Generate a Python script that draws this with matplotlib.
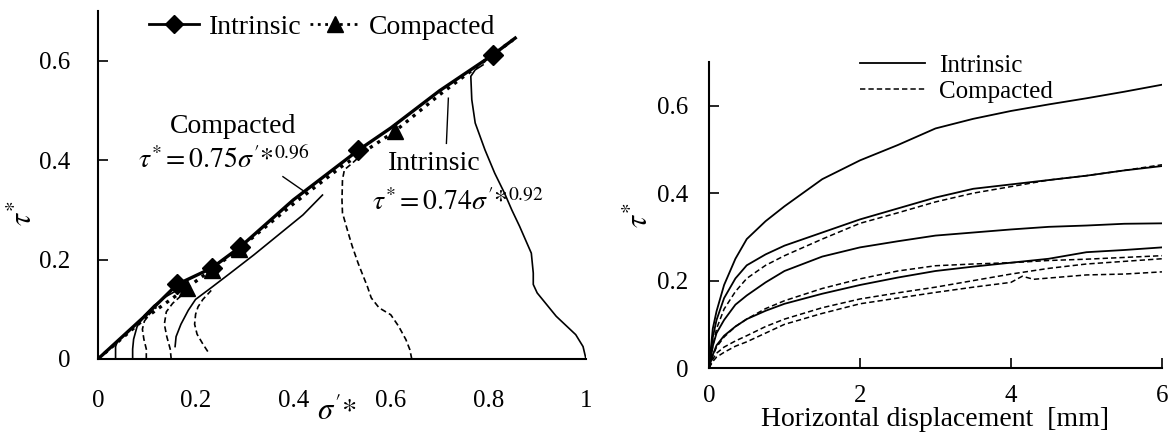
import matplotlib
matplotlib.use("Agg")
import matplotlib.pyplot as plt
from matplotlib.lines import Line2D

plt.rcParams['font.family'] = ['Liberation Serif', 'DejaVu Serif']
plt.rcParams['mathtext.fontset'] = 'stix'

# ---------------- Left chart data (sigma'*, tau*) ----------------
# failure envelopes (fit lines)
env_int_sig = [0.0, 0.1, 0.162, 0.233, 0.292, 0.4, 0.533, 0.6, 0.7, 0.809, 0.855]
env_int_tau = [0.0, 0.09, 0.150, 0.183, 0.226, 0.32, 0.420, 0.465, 0.54, 0.612, 0.646]
env_int_markers = [2, 3, 4, 6, 9]

env_cmp_sig = [0.0, 0.1, 0.182, 0.233, 0.288, 0.4, 0.5, 0.608, 0.7, 0.8, 0.85]
env_cmp_tau = [0.0, 0.085, 0.143, 0.180, 0.221, 0.312, 0.388, 0.458, 0.532, 0.606, 0.642]
env_cmp_markers = [2, 3, 4, 7]

# intrinsic stress paths (solid)
pathI1_sig = [0.036, 0.036, 0.040]
pathI1_tau = [0.0, 0.025, 0.036]
pathI2_sig = [0.071, 0.071, 0.073, 0.080, 0.095, 0.115, 0.140, 0.165]
pathI2_tau = [0.0, 0.020, 0.040, 0.065, 0.088, 0.108, 0.126, 0.140]
pathI3_sig = [0.158, 0.160, 0.170, 0.185, 0.200, 0.230, 0.270, 0.320, 0.370, 0.420, 0.460]
pathI3_tau = [0.025, 0.045, 0.070, 0.098, 0.120, 0.142, 0.172, 0.210, 0.250, 0.290, 0.330]
pathI4_sig = [1.0, 0.994, 0.979, 0.939, 0.900, 0.892, 0.892, 0.888, 0.876, 0.864, 0.848,
              0.833, 0.813, 0.793, 0.773, 0.766, 0.764, 0.773, 0.789]
pathI4_tau = [0.0, 0.025, 0.049, 0.086, 0.133, 0.150, 0.173, 0.213, 0.240, 0.267, 0.300,
              0.334, 0.374, 0.421, 0.475, 0.522, 0.569, 0.582, 0.592]

# compacted stress paths (dashed)
pathC1_sig = [0.099, 0.099, 0.094, 0.091, 0.095, 0.105, 0.120]
pathC1_tau = [0.0, 0.020, 0.040, 0.060, 0.076, 0.090, 0.104]
pathC2_sig = [0.150, 0.148, 0.141, 0.136, 0.140, 0.153, 0.170]
pathC2_tau = [0.0, 0.020, 0.045, 0.070, 0.095, 0.112, 0.127]
pathC3_sig = [0.225, 0.215, 0.203, 0.198, 0.200, 0.205, 0.215, 0.232]
pathC3_tau = [0.015, 0.030, 0.050, 0.070, 0.090, 0.105, 0.120, 0.138]
pathC4_sig = [0.643, 0.639, 0.631, 0.616, 0.600, 0.576, 0.560, 0.552, 0.541, 0.533, 0.521,
              0.513, 0.501, 0.500, 0.501, 0.505, 0.521, 0.533]
pathC4_tau = [0.0, 0.019, 0.039, 0.066, 0.089, 0.103, 0.123, 0.146, 0.173, 0.193, 0.227,
              0.253, 0.294, 0.320, 0.361, 0.381, 0.394, 0.405]

left_xticks = [0, 0.2, 0.4, 0.6, 0.8, 1]
left_xticklabels = ['0', '0.2', '0.4', '0.6', '0.8', '1']
left_yticks = [0, 0.2, 0.4, 0.6]
left_yticklabels = ['0', '0.2', '0.4', '0.6']

# ---------------- Right chart data (displacement mm, tau*) ----------------
disp = [0, 0.05, 0.1, 0.2, 0.35, 0.5, 0.75, 1.0, 1.5, 2.0, 2.5, 3.0, 3.5, 4.0, 4.5, 5.0, 5.5, 6.0]
int_1 = [0, 0.09, 0.13, 0.19, 0.25, 0.295, 0.336, 0.37, 0.432, 0.475, 0.51, 0.548, 0.57, 0.588, 0.603, 0.617, 0.632, 0.648]
int_2 = [0, 0.07, 0.11, 0.16, 0.205, 0.235, 0.26, 0.28, 0.31, 0.34, 0.365, 0.39, 0.41, 0.42, 0.43, 0.44, 0.452, 0.462]
int_3 = [0, 0.05, 0.08, 0.11, 0.145, 0.166, 0.196, 0.222, 0.255, 0.276, 0.29, 0.303, 0.31, 0.317, 0.323, 0.326, 0.33, 0.331]
int_4 = [0, 0.03, 0.052, 0.074, 0.095, 0.112, 0.131, 0.147, 0.17, 0.19, 0.207, 0.222, 0.232, 0.241, 0.25, 0.265, 0.27, 0.276]
cmp_1 = [0, 0.05, 0.09, 0.135, 0.175, 0.205, 0.235, 0.257, 0.295, 0.331, 0.355, 0.38, 0.4, 0.415, 0.43, 0.44, 0.452, 0.465]
cmp_2 = [0, 0.028, 0.048, 0.071, 0.095, 0.112, 0.136, 0.154, 0.182, 0.204, 0.222, 0.234, 0.238, 0.241, 0.246, 0.249, 0.253, 0.257]
cmp_3 = [0, 0.02, 0.034, 0.048, 0.062, 0.074, 0.095, 0.112, 0.138, 0.158, 0.172, 0.185, 0.2, 0.215, 0.228, 0.238, 0.244, 0.25]
disp_c4 = [0, 0.05, 0.1, 0.2, 0.35, 0.5, 0.75, 1.0, 1.5, 2.0, 2.5, 3.0, 3.5, 4.0, 4.15, 4.3, 5.0, 5.5, 6.0]
cmp_4 = [0, 0.015, 0.025, 0.036, 0.05, 0.06, 0.08, 0.1, 0.125, 0.147, 0.16, 0.173, 0.185, 0.196, 0.21, 0.203, 0.213, 0.215, 0.22]

right_xticks = [0, 2, 4, 6]
right_yticks = [0, 0.2, 0.4, 0.6]
right_yticklabels = ['0', '0.2', '0.4', '0.6']

TICK_FS = 18
LAB_FS = 20

fig = plt.figure(figsize=(11.75, 4.32), dpi=100)

# ================= Left axes =================
ax1 = fig.add_axes([0.0834, 0.169, 0.4153, 0.805])
dash = (0, (3.5, 2.0))
for s, t in [(pathI1_sig, pathI1_tau), (pathI2_sig, pathI2_tau),
             (pathI3_sig, pathI3_tau), (pathI4_sig, pathI4_tau)]:
    ax1.plot(s, t, color='black', lw=1.2, solid_joinstyle='round')
for s, t in [(pathC1_sig, pathC1_tau), (pathC2_sig, pathC2_tau),
             (pathC3_sig, pathC3_tau), (pathC4_sig, pathC4_tau)]:
    ax1.plot(s, t, color='black', lw=1.2, linestyle=dash)

ax1.plot(env_int_sig, env_int_tau, color='black', lw=2.4, marker='D', markersize=10,
         markevery=env_int_markers)
ax1.plot(env_cmp_sig, env_cmp_tau, color='black', lw=2.4, linestyle=':', marker='^',
         markersize=12, markevery=env_cmp_markers)

ax1.set_xlim(0, 1)
ax1.set_ylim(0, 0.7)
ax1.spines['top'].set_visible(False)
ax1.spines['right'].set_visible(False)
ax1.spines['left'].set_linewidth(1.5)
ax1.spines['bottom'].set_linewidth(1.5)
ax1.set_xticks(left_xticks)
ax1.set_xticklabels(left_xticklabels)
ax1.set_yticks(left_yticks)
ax1.set_yticklabels(left_yticklabels)
ax1.tick_params(axis='x', length=0, pad=22, labelsize=TICK_FS)
ax1.tick_params(axis='y', direction='in', length=7, width=1.2, pad=20, labelsize=TICK_FS)

ax1.text(0.49, -0.155, r"$\sigma'{*}$", transform=ax1.transAxes, ha='center', va='center',
         fontsize=LAB_FS + 2)
ax1.text(-0.15, 0.42, r"$\tau^{*}$", transform=ax1.transAxes, ha='center', va='center',
         fontsize=LAB_FS + 2, rotation=90)

ax1.text(0.276, 0.468, "Compacted", ha='center', va='center', fontsize=LAB_FS)
ax1.text(0.257, 0.401, r"$\tau^{*}=0.75\sigma'{*}^{\mathrm{0.96}}$", ha='center', va='center',
         fontsize=LAB_FS)
ax1.plot([0.379, 0.426], [0.367, 0.335], color='black', lw=1.0)
ax1.text(0.69, 0.394, "Intrinsic", ha='center', va='center', fontsize=LAB_FS)
ax1.text(0.738, 0.314, r"$\tau^{*}=0.74\sigma'{*}^{\mathrm{0.92}}$", ha='center', va='center',
         fontsize=LAB_FS)
ax1.plot([0.718, 0.714], [0.525, 0.434], color='black', lw=1.0)

h_int = Line2D([], [], color='black', lw=2.0, marker='D', markersize=9)
h_cmp = Line2D([], [], color='black', lw=2.0, linestyle=':', marker='^', markersize=11)
ax1.legend([h_int, h_cmp], ['Intrinsic', 'Compacted'], ncol=2, frameon=False,
           loc='center left', bbox_to_anchor=(0.07, 0.955), fontsize=LAB_FS,
           handlelength=1.8, handletextpad=0.35, columnspacing=0.3, borderpad=0.1)

# ================= Right axes =================
ax2 = fig.add_axes([0.6034, 0.148, 0.3855, 0.7085])
for y in [int_1, int_2, int_3, int_4]:
    ax2.plot(disp, y, color='black', lw=1.3)
for y in [cmp_1, cmp_2, cmp_3]:
    ax2.plot(disp, y, color='black', lw=1.1, linestyle=dash)
ax2.plot(disp_c4, cmp_4, color='black', lw=1.1, linestyle=dash)

ax2.set_xlim(0, 6)
ax2.set_ylim(0, 0.7)
ax2.spines['top'].set_visible(False)
ax2.spines['right'].set_visible(False)
ax2.spines['left'].set_linewidth(1.5)
ax2.spines['bottom'].set_linewidth(1.5)
ax2.set_xticks(right_xticks)
ax2.set_yticks(right_yticks)
ax2.set_yticklabels(right_yticklabels)
ax2.tick_params(axis='x', direction='in', length=7, width=1.2, pad=12, labelsize=TICK_FS)
ax2.tick_params(axis='y', direction='in', length=7, width=1.2, pad=15, labelsize=TICK_FS)
ax2.set_xlabel("Horizontal displacement  [mm]", fontsize=LAB_FS, labelpad=0)
ax2.text(-0.152, 0.5, r"$\tau^{*}$", transform=ax2.transAxes, ha='center', va='center',
         fontsize=LAB_FS + 2, rotation=90)

h1 = Line2D([], [], color='black', lw=1.3)
h2 = Line2D([], [], color='black', lw=1.1, linestyle=dash)
ax2.legend([h1, h2], ['Intrinsic', 'Compacted'], frameon=False, loc='upper left',
           bbox_to_anchor=(0.30, 1.075), fontsize=18, handlelength=2.6,
           handletextpad=0.55, labelspacing=0.15, borderpad=0.1)

fig.savefig('out.png', dpi=100)
